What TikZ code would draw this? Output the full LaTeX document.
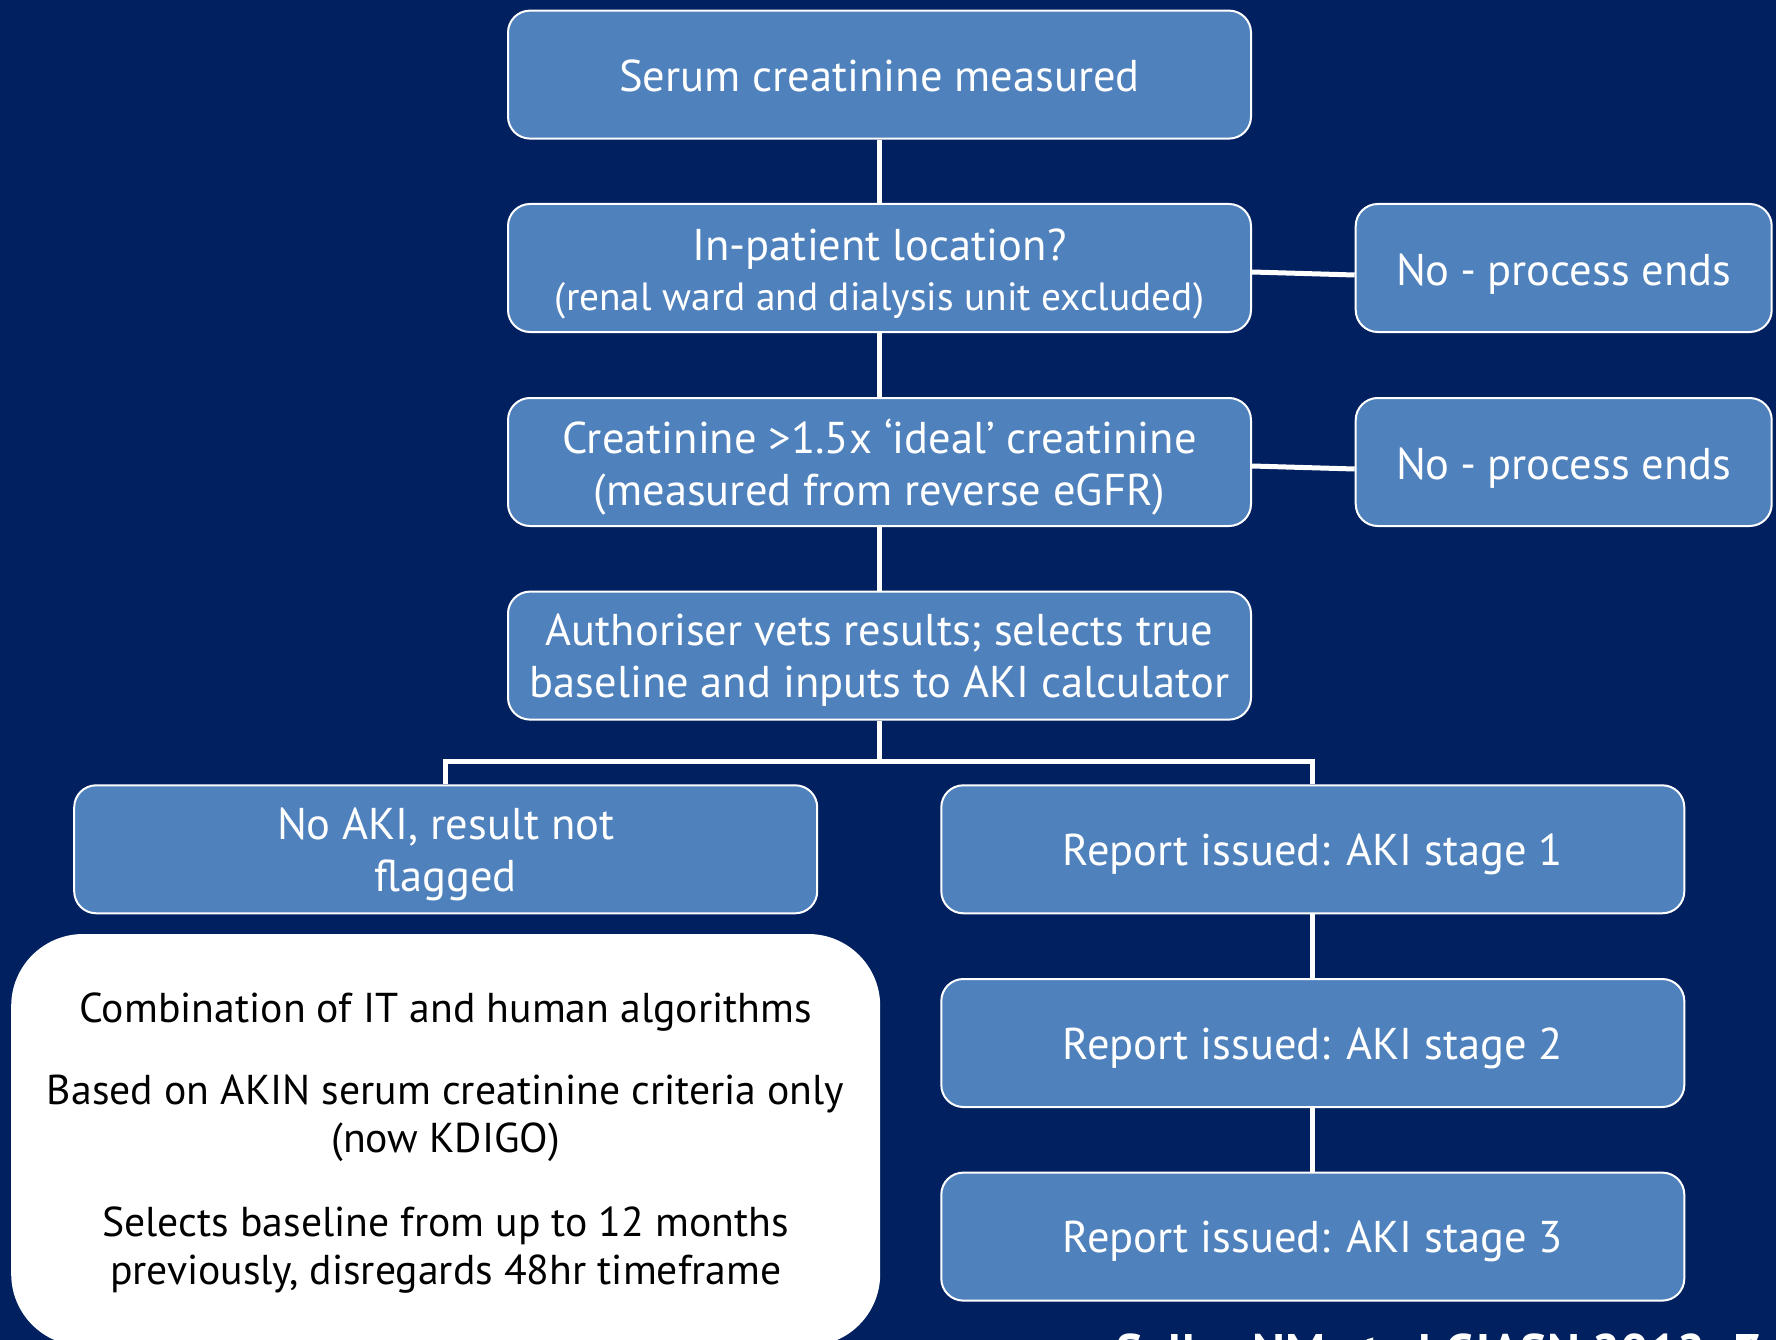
\documentclass[tikz,border=0pt]{standalone}
\usepackage{fontspec}
\setmainfont{PT Sans}
\definecolor{bgnavy}{RGB}{0,32,96}
\definecolor{boxblue}{RGB}{79,129,189}
\newcommand{\shortdash}{\kern-1pt\scalebox{0.55}[1]{–}\kern-1pt}
\begin{document}
\begin{tikzpicture}[x=1pt,y=-1pt,
  bbox/.style={draw=white, line width=2pt, fill=boxblue, rounded corners=22pt,
    minimum width=743pt, minimum height=128pt, inner sep=0pt},
  endbox/.style={bbox, minimum width=416pt},
  btxt/.style={text=white, align=center, font=\fontsize{44.5}{52}\selectfont, inner sep=0pt},
  conn/.style={draw=white, line width=5pt},
  wbox/.style={fill=white, draw=none, rounded corners=72pt, minimum width=869pt, minimum height=412pt, inner sep=0pt},
  wtext/.style={text=black, align=center, font=\fontsize{41.7}{48}\selectfont, inner sep=0pt}]
\fill[bgnavy] (0,0) rectangle (1776,1340);
\useasboundingbox (0,0) rectangle (1776,1340);

\node[bbox] (b1) at (879.5,74.6) {};
\node[bbox] (b2) at (879.5,268) {};
\node[bbox] (b3) at (879.5,462) {};
\node[bbox] (b4) at (879.5,655.6) {};
\node[endbox] (e1) at (1563.7,268) {};
\node[endbox] (e2) at (1563.7,462) {};
\node[bbox] (noaki) at (445.7,849.3) {};
\node[bbox] (s1) at (1312.8,849.3) {};
\node[bbox] (s2) at (1312.8,1043) {};
\node[bbox] (s3) at (1312.8,1236.6) {};

\node[btxt] (b1t) at ([yshift=-1pt]b1.center) {Serum creatinine measured};
\node[btxt] (b2t) at ([yshift=-6pt]b2.center) {{\fontsize{44.5}{49}\selectfont In-patient location?}\\[-2pt]{\fontsize{39.4}{49}\selectfont (renal ward and dialysis unit excluded)}};
\node[btxt] (b3t) at ([yshift=-5pt]b3.center) {Creatinine >1.5x ‘ideal’ creatinine\\(measured from reverse eGFR)};
\node[btxt] (b4t) at ([yshift=-5pt]b4.center) {Authoriser vets results; selects true\\baseline and inputs to AKI calculator};
\node[btxt] (e1t) at ([yshift=-6pt]e1.center) {No \shortdash{} process ends};
\node[btxt] (e2t) at ([yshift=-6pt]e2.center) {No \shortdash{} process ends};
\node[btxt] (noakit) at ([yshift=-5pt]noaki.center) {No AKI, result not\\flagged};
\node[btxt] (s1t) at ([yshift=-5pt]s1.center) {Report issued: AKI stage 1};
\node[btxt] (s2t) at ([yshift=-5pt]s2.center) {Report issued: AKI stage 2};
\node[btxt] (s3t) at ([yshift=-5pt]s3.center) {Report issued: AKI stage 3};

\node[wbox] (wb) at (445.7,1140) {};
\node[wtext] (wt1) at (445.7,1012) {Combination of IT and human algorithms};
\node[wtext] (wt2) at (445.7,1118.5) {Based on AKIN serum creatinine criteria only\\(now KDIGO)};
\node[wtext] (wt3) at (445.7,1250) {Selects baseline from up to 12 months\\previously, disregards 48hr timeframe};

\node[anchor=north west, inner sep=0pt, text=white, font=\fontsize{50}{58}\selectfont\bfseries] (cite) at (1116,1334) {Sellar NM et al CJASN 2012; 7:};

\draw[conn] (b1.south) -- (b2.north);
\draw[conn] (b2.south) -- (b3.north);
\draw[conn] (b3.south) -- (b4.north);
\draw[conn] ([yshift=-4pt]b2.east) -- ([yshift=-7pt]e1.west);
\draw[conn] ([yshift=-4pt]b3.east) -- ([yshift=-7pt]e2.west);
\draw[conn] (b4.south) -- ([yshift=-41pt]b4.south) coordinate (j);
\draw[conn] (noaki.north) |- (j) -| (s1.north);
\draw[conn] (s1.south) -- (s2.north);
\draw[conn] (s2.south) -- (s3.north);
\end{tikzpicture}
\end{document}
